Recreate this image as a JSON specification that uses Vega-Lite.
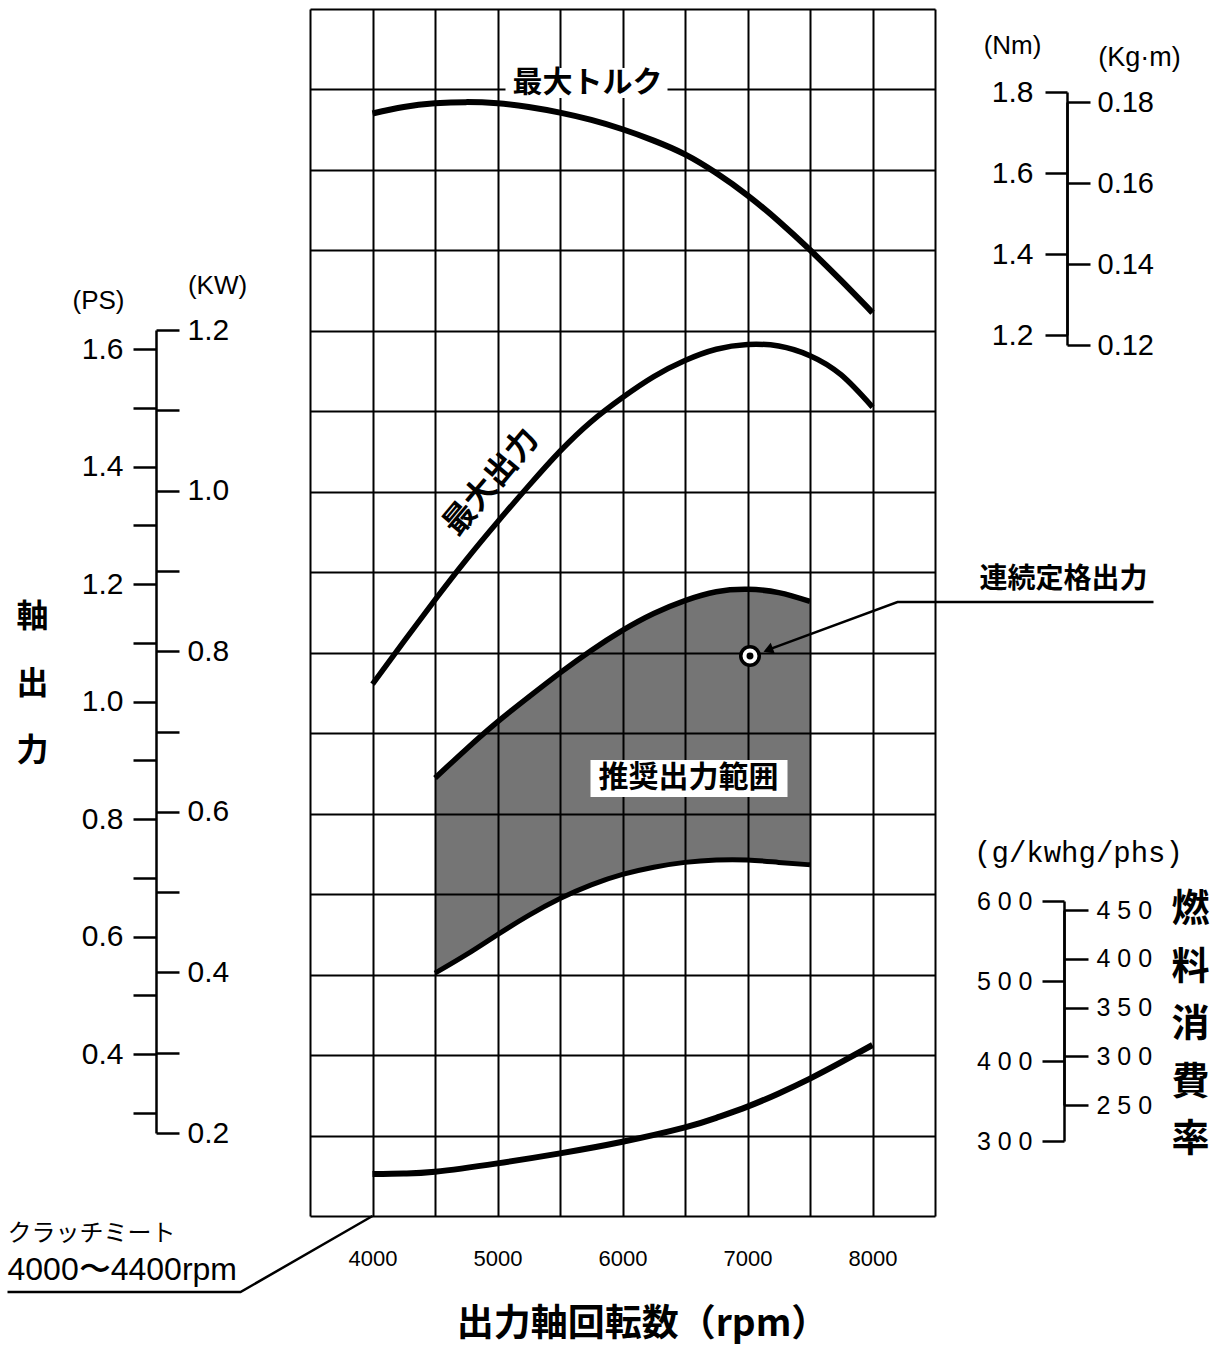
{
  "$schema": "https://vega.github.io/schema/vega-lite/v6.json",
  "width": 625,
  "height": 1207,
  "autosize": {"type": "none"},
  "padding": {"left": 310, "top": 9, "right": 277, "bottom": 140},
  "background": "white",
  "config": {
    "view": {"stroke": null},
    "axis": {"domainColor": "black", "tickColor": "black", "labelColor": "black", "titleColor": "black", "gridColor": "black", "labelOverlap": false, "labelFlush": false, "labelBound": false}
  },
  "datasets": {
    "torque": [
      {"rpm": 4000, "nm": 1.747}, {"rpm": 4250, "nm": 1.763}, {"rpm": 4500, "nm": 1.772}, {"rpm": 4750, "nm": 1.775},
      {"rpm": 5000, "nm": 1.772}, {"rpm": 5250, "nm": 1.763}, {"rpm": 5500, "nm": 1.749}, {"rpm": 5750, "nm": 1.731},
      {"rpm": 6000, "nm": 1.708}, {"rpm": 6250, "nm": 1.680}, {"rpm": 6500, "nm": 1.646}, {"rpm": 6750, "nm": 1.600},
      {"rpm": 7000, "nm": 1.545}, {"rpm": 7250, "nm": 1.481}, {"rpm": 7500, "nm": 1.410}, {"rpm": 7750, "nm": 1.334},
      {"rpm": 8000, "nm": 1.255}
    ],
    "maxpower": [
      {"rpm": 4000, "kw": 0.759}, {"rpm": 4250, "kw": 0.812}, {"rpm": 4500, "kw": 0.864}, {"rpm": 4750, "kw": 0.914},
      {"rpm": 5000, "kw": 0.961}, {"rpm": 5250, "kw": 1.006}, {"rpm": 5500, "kw": 1.049}, {"rpm": 5750, "kw": 1.086},
      {"rpm": 6000, "kw": 1.116}, {"rpm": 6250, "kw": 1.142}, {"rpm": 6500, "kw": 1.162}, {"rpm": 6750, "kw": 1.176},
      {"rpm": 7000, "kw": 1.182}, {"rpm": 7250, "kw": 1.180}, {"rpm": 7500, "kw": 1.168}, {"rpm": 7750, "kw": 1.144},
      {"rpm": 8000, "kw": 1.104}
    ],
    "rated": [
      {"rpm": 4500, "kw": 0.642, "kw2": 0.399}, {"rpm": 4750, "kw": 0.678, "kw2": 0.422}, {"rpm": 5000, "kw": 0.712, "kw2": 0.447},
      {"rpm": 5250, "kw": 0.743, "kw2": 0.471}, {"rpm": 5500, "kw": 0.773, "kw2": 0.492}, {"rpm": 5750, "kw": 0.801, "kw2": 0.509},
      {"rpm": 6000, "kw": 0.826, "kw2": 0.522}, {"rpm": 6250, "kw": 0.847, "kw2": 0.531}, {"rpm": 6500, "kw": 0.863, "kw2": 0.537},
      {"rpm": 6750, "kw": 0.874, "kw2": 0.540}, {"rpm": 7000, "kw": 0.877, "kw2": 0.540}, {"rpm": 7250, "kw": 0.873, "kw2": 0.537},
      {"rpm": 7500, "kw": 0.862, "kw2": 0.534}
    ],
    "fuel": [
      {"rpm": 4000, "gkwh": 258.6}, {"rpm": 4250, "gkwh": 259.5}, {"rpm": 4500, "gkwh": 261.5}, {"rpm": 5000, "gkwh": 272.0},
      {"rpm": 5500, "gkwh": 284.5}, {"rpm": 6000, "gkwh": 299.0}, {"rpm": 6500, "gkwh": 317.0}, {"rpm": 6750, "gkwh": 329.0},
      {"rpm": 7000, "gkwh": 343.0}, {"rpm": 7250, "gkwh": 359.5}, {"rpm": 7500, "gkwh": 378.0}, {"rpm": 7750, "gkwh": 398.5},
      {"rpm": 8000, "gkwh": 420.0}
    ],
    "boxes": [
      {"rpm": 5064, "rpm2": 6360, "g": 1.5267, "g2": 1.4894},
      {"rpm": 5744, "rpm2": 7320, "g": 0.6667, "g2": 0.6207}
    ]
  },
  "encoding": {
    "x": {
      "field": "rpm", "type": "quantitative",
      "scale": {"domain": [3500, 8500], "nice": false, "zero": false},
      "axis": {
        "values": [3500, 4000, 4500, 5000, 5500, 6000, 6500, 7000, 7500, 8000, 8500],
        "grid": true, "gridWidth": 2, "gridColor": "black", "gridOpacity": 1,
        "ticks": false, "domain": false,
        "labelExpr": "datum.value % 1000 == 0 && datum.value >= 4000 && datum.value <= 8000 ? format(datum.value, 'd') : ''",
        "labelFont": "Liberation Sans", "labelFontSize": 22, "labelPadding": 32,
        "title": "出力軸回転数（rpm）", "titleFont": "Noto Sans CJK JP", "titleFontSize": 37, "titleFontWeight": "bold",
        "titlePadding": 37, "titleX": 332
      }
    }
  },
  "resolve": {"scale": {"y": "independent"}, "axis": {"y": "independent"}},
  "layer": [
    {
      "encoding": {
        "y": {"field": "g", "type": "quantitative",
          "scale": {"domain": [0.1, 1.6], "nice": false, "zero": false},
          "axis": {"orient": "left", "values": [0.1, 0.2, 0.3, 0.4, 0.5, 0.6, 0.7, 0.8, 0.9, 1.0, 1.1, 1.2, 1.3, 1.4, 1.5, 1.6],
            "grid": true, "gridColor": "black", "gridWidth": 2, "gridOpacity": 1,
            "domain": false, "ticks": false, "labels": false, "title": null}}
      },
      "layer": [
        {
          "data": {"values": [{"rpm": 1280, "g": 0.8444, "t": "軸\n出\n力"}]},
          "mark": {"type": "text", "font": "Noto Sans CJK JP", "fontSize": 32, "fontWeight": "bold", "lineBreak": "\n", "lineHeight": 67, "color": "black"},
          "encoding": {"text": {"field": "t"}}
        },
        {
          "data": {"values": [{"rpm": 1080, "g": 0.0776, "t": "クラッチミート"}]},
          "mark": {"type": "text", "font": "Noto Sans CJK JP", "fontSize": 24, "align": "left", "color": "black"},
          "encoding": {"text": {"field": "t"}}
        },
        {
          "data": {"values": [{"rpm": 1080, "g": 0.0328, "t": "4000〜4400rpm"}]},
          "mark": {"type": "text", "font": "Liberation Sans Narrow, Liberation Sans", "fontSize": 32, "align": "left", "color": "black"},
          "encoding": {"text": {"field": "t"}}
        },
        {
          "data": {"values": [{"rpm": 1080, "g": 0.0055}, {"rpm": 2944, "g": 0.0055}, {"rpm": 4000, "g": 0.1}]},
          "mark": {"type": "line", "color": "black", "strokeWidth": 2.5},
          "encoding": {}
        }
      ]
    },
    {
      "layer": [
        {
          "data": {"name": "rated"},
          "mark": {"type": "area", "interpolate": "natural", "color": "black", "opacity": 0.54},
          "encoding": {
            "y": {"field": "kw", "type": "quantitative",
              "scale": {"domain": [0.2, 1.2], "range": [1124, 321], "nice": false, "zero": false},
              "axis": {"orient": "right", "offset": -779, "values": [0.2, 0.3, 0.4, 0.5, 0.6, 0.7, 0.8, 0.9, 1.0, 1.1, 1.2],
                "domain": true, "domainWidth": 2.5, "tickSize": 23, "tickWidth": 2.5, "grid": false,
                "labelExpr": "round(datum.value*10) % 2 == 0 ? format(datum.value, '.1f') : ''",
                "labelFont": "Liberation Sans", "labelFontSize": 30, "labelPadding": 8, "title": null}},
            "y2": {"field": "kw2"}
          }
        },
        {
          "data": {"name": "rated"},
          "mark": {"type": "line", "interpolate": "natural", "color": "black", "strokeWidth": 5.5},
          "encoding": {"y": {"field": "kw", "type": "quantitative",
              "scale": {"domain": [0.2, 1.2], "range": [1124, 321], "nice": false, "zero": false},
              "axis": {"orient": "right", "offset": -779, "values": [0.2, 0.3, 0.4, 0.5, 0.6, 0.7, 0.8, 0.9, 1.0, 1.1, 1.2],
                "domain": true, "domainWidth": 2.5, "tickSize": 23, "tickWidth": 2.5, "grid": false,
                "labelExpr": "round(datum.value*10) % 2 == 0 ? format(datum.value, '.1f') : ''",
                "labelFont": "Liberation Sans", "labelFontSize": 30, "labelPadding": 8, "title": null}}}
        },
        {
          "data": {"name": "rated"},
          "mark": {"type": "line", "interpolate": "natural", "color": "black", "strokeWidth": 5},
          "encoding": {"y": {"field": "kw2", "type": "quantitative",
              "scale": {"domain": [0.2, 1.2], "range": [1124, 321], "nice": false, "zero": false},
              "axis": {"orient": "right", "offset": -779, "values": [0.2, 0.3, 0.4, 0.5, 0.6, 0.7, 0.8, 0.9, 1.0, 1.1, 1.2],
                "domain": true, "domainWidth": 2.5, "tickSize": 23, "tickWidth": 2.5, "grid": false,
                "labelExpr": "round(datum.value*10) % 2 == 0 ? format(datum.value, '.1f') : ''",
                "labelFont": "Liberation Sans", "labelFontSize": 30, "labelPadding": 8, "title": null}}}
        },
        {
          "data": {"name": "maxpower"},
          "mark": {"type": "line", "interpolate": "natural", "color": "black", "strokeWidth": 5.5},
          "encoding": {"y": {"field": "kw", "type": "quantitative",
              "scale": {"domain": [0.2, 1.2], "range": [1124, 321], "nice": false, "zero": false},
              "axis": {"orient": "right", "offset": -779, "values": [0.2, 0.3, 0.4, 0.5, 0.6, 0.7, 0.8, 0.9, 1.0, 1.1, 1.2],
                "domain": true, "domainWidth": 2.5, "tickSize": 23, "tickWidth": 2.5, "grid": false,
                "labelExpr": "round(datum.value*10) % 2 == 0 ? format(datum.value, '.1f') : ''",
                "labelFont": "Liberation Sans", "labelFontSize": 30, "labelPadding": 8, "title": null}}}
        },
        {
          "data": {"values": [{"rpm": 2760, "kw": 1.2548, "t": "(KW)"}]},
          "mark": {"type": "text", "font": "Liberation Sans", "fontSize": 26, "color": "black"},
          "encoding": {
            "y": {"field": "kw", "type": "quantitative",
              "scale": {"domain": [0.2, 1.2], "range": [1124, 321], "nice": false, "zero": false},
              "axis": {"orient": "right", "offset": -779, "values": [0.2, 0.3, 0.4, 0.5, 0.6, 0.7, 0.8, 0.9, 1.0, 1.1, 1.2],
                "domain": true, "domainWidth": 2.5, "tickSize": 23, "tickWidth": 2.5, "grid": false,
                "labelExpr": "round(datum.value*10) % 2 == 0 ? format(datum.value, '.1f') : ''",
                "labelFont": "Liberation Sans", "labelFontSize": 30, "labelPadding": 8, "title": null}},
            "text": {"field": "t"}
          }
        }
      ]
    },
    {
      "data": {"values": [{"rpm": 1808, "ps": 1.6817, "t": "(PS)"}]},
      "mark": {"type": "text", "font": "Liberation Sans", "fontSize": 26, "color": "black"},
      "encoding": {
        "y": {"field": "ps", "type": "quantitative",
          "scale": {"domain": [0.3, 1.6], "range": [1104, 340], "nice": false, "zero": false},
          "axis": {"orient": "left", "offset": 154, "values": [0.3, 0.4, 0.5, 0.6, 0.7, 0.8, 0.9, 1.0, 1.1, 1.2, 1.3, 1.4, 1.5, 1.6],
            "domain": false, "tickSize": 23, "tickWidth": 2.5, "grid": false,
            "labelExpr": "round(datum.value*10) % 2 == 0 ? format(datum.value, '.1f') : ''",
            "labelFont": "Liberation Sans", "labelFontSize": 30, "labelPadding": 10, "title": null}},
        "text": {"field": "t"}
      }
    },
    {
      "layer": [
        {
          "data": {"name": "torque"},
          "mark": {"type": "line", "interpolate": "natural", "color": "black", "strokeWidth": 6},
          "encoding": {
            "y": {"field": "nm", "type": "quantitative",
              "scale": {"domain": [1.2, 1.8], "range": [326, 83], "nice": false, "zero": false},
              "axis": {"orient": "left", "offset": -757, "values": [1.2, 1.4, 1.6, 1.8], "format": ".1f",
                "domain": true, "domainWidth": 2.5, "tickSize": 22, "tickWidth": 2.5, "grid": false,
                "labelFont": "Liberation Sans", "labelFontSize": 30, "labelPadding": 12, "title": null}}
          }
        },
        {
          "data": {"values": [{"rpm": 9120, "nm": 1.9136, "t": "(Nm)"}]},
          "mark": {"type": "text", "font": "Liberation Sans", "fontSize": 26, "color": "black"},
          "encoding": {
            "y": {"field": "nm", "type": "quantitative",
              "scale": {"domain": [1.2, 1.8], "range": [326, 83], "nice": false, "zero": false},
              "axis": {"orient": "left", "offset": -757, "values": [1.2, 1.4, 1.6, 1.8], "format": ".1f",
                "domain": true, "domainWidth": 2.5, "tickSize": 22, "tickWidth": 2.5, "grid": false,
                "labelFont": "Liberation Sans", "labelFontSize": 30, "labelPadding": 12, "title": null}},
            "text": {"field": "t"}
          }
        }
      ]
    },
    {
      "data": {"values": [{"rpm": 10136, "kgm": 0.1909, "t": "(Kg·m)"}]},
      "mark": {"type": "text", "font": "Liberation Sans", "fontSize": 27, "color": "black"},
      "encoding": {
        "y": {"field": "kgm", "type": "quantitative",
          "scale": {"domain": [0.12, 0.18], "range": [336, 93], "nice": false, "zero": false},
          "axis": {"orient": "right", "offset": 132, "values": [0.12, 0.14, 0.16, 0.18], "format": ".2f",
            "domain": true, "domainWidth": 2.5, "tickSize": 23, "tickWidth": 2.5, "grid": false,
            "labelFont": "Liberation Sans Narrow, Liberation Sans", "labelFontSize": 29, "labelPadding": 7, "title": null}},
        "text": {"field": "t"}
      }
    },
    {
      "layer": [
        {
          "data": {"name": "fuel"},
          "mark": {"type": "line", "interpolate": "natural", "color": "black", "strokeWidth": 6},
          "encoding": {
            "y": {"field": "gkwh", "type": "quantitative",
              "scale": {"domain": [300, 600], "range": [1132, 892], "nice": false, "zero": false},
              "axis": {"orient": "left", "offset": -754, "values": [300, 400, 500, 600],
                "domain": true, "domainWidth": 2.5, "tickSize": 22, "tickWidth": 2.5, "grid": false,
                "labelExpr": "join(split(datum.label, ''), ' ')",
                "labelFont": "Liberation Sans", "labelFontSize": 25, "labelPadding": 10, "title": null}}
          }
        },
        {
          "data": {"values": [{"rpm": 9648, "gkwh": 660, "t": "(g/kwhg/phs)"}]},
          "mark": {"type": "text", "font": "Liberation Mono", "fontSize": 29, "color": "black"},
          "encoding": {
            "y": {"field": "gkwh", "type": "quantitative",
              "scale": {"domain": [300, 600], "range": [1132, 892], "nice": false, "zero": false},
              "axis": {"orient": "left", "offset": -754, "values": [300, 400, 500, 600],
                "domain": true, "domainWidth": 2.5, "tickSize": 22, "tickWidth": 2.5, "grid": false,
                "labelExpr": "join(split(datum.label, ''), ' ')",
                "labelFont": "Liberation Sans", "labelFontSize": 25, "labelPadding": 10, "title": null}},
            "text": {"field": "t"}
          }
        }
      ]
    },
    {
      "data": {"values": [{"rpm": 10544, "gpsh": 450, "t": "燃\n料\n消\n費\n率"}]},
      "mark": {"type": "text", "font": "Noto Sans CJK JP", "fontSize": 38, "fontWeight": "bold", "lineBreak": "\n", "lineHeight": 57.5, "color": "black"},
      "encoding": {
        "y": {"field": "gpsh", "type": "quantitative",
          "scale": {"domain": [250, 450], "range": [1096, 901], "nice": false, "zero": false},
          "axis": {"orient": "right", "offset": 129, "values": [250, 300, 350, 400, 450],
            "domain": true, "domainWidth": 2.5, "tickSize": 24, "tickWidth": 2.5, "grid": false,
            "labelExpr": "join(split(datum.label, ''), ' ')",
            "labelFont": "Liberation Sans", "labelFontSize": 25, "labelPadding": 8, "title": null}},
        "text": {"field": "t"}
      }
    },
    {
      "encoding": {
        "y": {"field": "g", "type": "quantitative", "scale": {"domain": [0.1, 1.6], "nice": false, "zero": false}, "axis": null}
      },
      "layer": [
        {
          "data": {"name": "boxes"},
          "mark": {"type": "rect", "color": "white"},
          "encoding": {"x2": {"field": "rpm2"}, "y2": {"field": "g2"}}
        },
        {
          "data": {"values": [{"rpm": 5720, "g": 1.508, "t": "最大トルク"}]},
          "mark": {"type": "text", "font": "Noto Sans CJK JP", "fontSize": 30, "fontWeight": "bold", "color": "black"},
          "encoding": {"text": {"field": "t"}}
        },
        {
          "data": {"values": [{"rpm": 4950, "g": 1.012, "t": "最大出力"}]},
          "mark": {"type": "text", "font": "Noto Sans CJK JP", "fontSize": 32, "fontWeight": "bold", "angle": 310, "color": "black"},
          "encoding": {"text": {"field": "t"}}
        },
        {
          "data": {"values": [{"rpm": 6528, "g": 0.6443, "t": "推奨出力範囲"}]},
          "mark": {"type": "text", "font": "Noto Sans CJK JP", "fontSize": 30, "fontWeight": "bold", "color": "black"},
          "encoding": {"text": {"field": "t"}}
        },
        {
          "data": {"values": [{"rpm": 9528, "g": 0.8904, "t": "連続定格出力"}]},
          "mark": {"type": "text", "font": "Noto Sans CJK JP", "fontSize": 28, "fontWeight": "bold", "color": "black"},
          "encoding": {"text": {"field": "t"}}
        },
        {
          "data": {"values": [{"rpm": 7184, "g": 0.8047}, {"rpm": 8200, "g": 0.8630}, {"rpm": 10248, "g": 0.8630}]},
          "mark": {"type": "line", "color": "black", "strokeWidth": 2.5},
          "encoding": {}
        },
        {
          "data": {"values": [{"rpm": 7165, "g": 0.8035}]},
          "mark": {"type": "point", "shape": "triangle-left", "angle": 339, "size": 130, "filled": true, "color": "black", "opacity": 1},
          "encoding": {}
        },
        {
          "data": {"values": [{"rpm": 7020, "g": 0.7959}]},
          "mark": {"type": "point", "shape": "circle", "size": 484, "filled": true, "color": "black", "opacity": 1},
          "encoding": {}
        },
        {
          "data": {"values": [{"rpm": 7020, "g": 0.7959}]},
          "mark": {"type": "point", "shape": "circle", "size": 120, "filled": true, "fill": "black", "stroke": "white", "strokeWidth": 4, "opacity": 1},
          "encoding": {}
        }
      ]
    }
  ]
}
